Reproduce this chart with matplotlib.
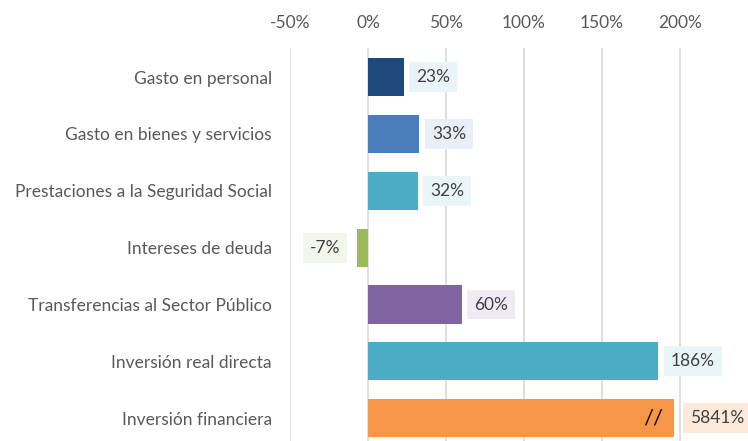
import matplotlib.pyplot as plt

# Variación por partida (%)
categories = ['Gasto en personal', 'Gasto en bienes y servicios',
              'Prestaciones a la Seguridad Social', 'Intereses de deuda',
              'Transferencias al Sector Público', 'Inversión real directa',
              'Inversión financiera']
values = [23, 33, 32, -7, 60, 186, 5841]
xticks = [-50, 0, 50, 100, 150, 200]
axis_cut = 196  # bars above this get cut and marked with //

colors = ['#1F497D', '#4A7EBB', '#4BACC6', '#9BBB59', '#8064A2', '#4BACC6', '#F79646']
label_bg = ['#EAF4F8', '#E9EEF7', '#EAF5F8', '#F3F6EC', '#EEEBF3', '#EAF5F8', '#FDE9DA']

plt.rcParams['font.family'] = ['Lato', 'DejaVu Sans']
fs = 12.5

fig = plt.figure(figsize=(7.48, 4.41), dpi=100)
ax = fig.add_axes([290 / 748, 0, (748 - 290) / 748, (441 - 48) / 441])

pos = list(range(len(categories)))
shown = [min(v, axis_cut) for v in values]
ax.barh(pos, shown, height=0.67, color=colors, zorder=2)

for i, v in enumerate(values):
    lab = f'{v}%'
    box = dict(boxstyle='square,pad=0.4', fc=label_bg[i], ec='none')
    if v < 0:
        ax.annotate(lab, (shown[i], i), xytext=(-12, 0), textcoords='offset points',
                    ha='right', va='center', fontsize=fs, color='#404040', bbox=box)
    elif v > axis_cut:
        ax.annotate(lab, (shown[i], i), xytext=(12, 0), textcoords='offset points',
                    ha='left', va='center', fontsize=fs, color='#404040', bbox=box)
        ax.text(axis_cut - 13, i, '//', ha='center', va='center', fontsize=16,
                color='#111111', zorder=3)
    else:
        ax.annotate(lab, (shown[i], i), xytext=(9, 0), textcoords='offset points',
                    ha='left', va='center', fontsize=fs, color='#404040', bbox=box)

ax.set_xlim(-50, 243.6)
ax.set_ylim(6.40, -0.51)
ax.set_xticks(xticks)
ax.set_xticklabels([f'{t}%' for t in xticks])
ax.set_yticks(pos)
ax.set_yticklabels(categories)
ax.xaxis.tick_top()
ax.tick_params(axis='x', length=0, pad=12, labelsize=fs, labelcolor='#595959')
ax.tick_params(axis='y', length=0, pad=13, labelsize=fs, labelcolor='#595959')
ax.grid(axis='x', color='#D9D9D9', lw=1.2)
ax.set_axisbelow(True)
for s in ax.spines.values():
    s.set_visible(False)

plt.savefig('out.png', dpi=100)
